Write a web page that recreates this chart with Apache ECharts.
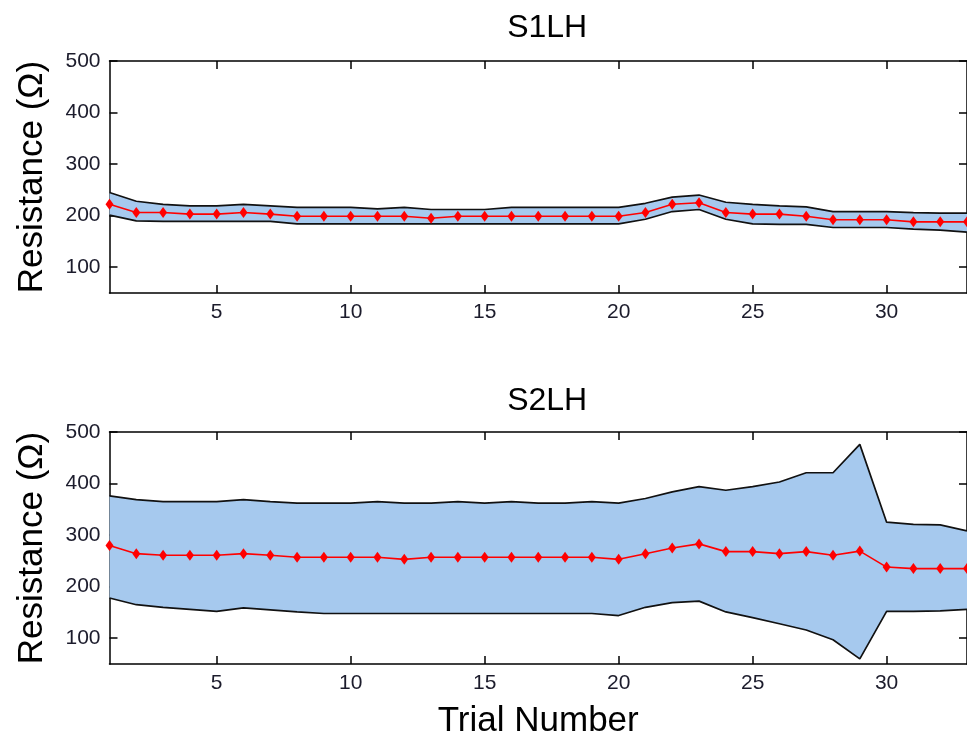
<!DOCTYPE html>
<html>
<head>
<meta charset="utf-8">
<script src="https://cdn.jsdelivr.net/npm/echarts@6/dist/echarts.min.js"></script>
<style>
html,body{margin:0;padding:0;background:#fff;}
#chart{width:967px;height:740px;}
</style>
</head>
<body>
<div id="chart"></div>
<script>
// ---- data ----
var trials = [1,2,3,4,5,6,7,8,9,10,11,12,13,14,15,16,17,18,19,20,21,22,23,24,25,26,27,28,29,30,31,32,33];
var xTicks = [5,10,15,20,25,30];
var yTicks = [100,200,300,400,500];
var titles = ['S1LH','S2LH'];

var s1Mean  = [222,206,206,203,203,206,203,199,199,199,199,199,195,199,199,199,199,199,199,199,206,222,225,206,203,203,199,192,192,192,188,188,188];
var s1Upper = [245,228,222,219,219,222,219,216,216,216,213,216,212,212,212,216,216,216,216,216,224,236,240,226,222,219,217,208,208,208,206,205,205];
var s1Lower = [201,190,189,189,189,189,189,184,184,184,184,184,184,184,184,184,184,184,184,184,193,208,212,193,184,183,183,177,177,177,174,172,168];

var s2Mean  = [280,264,261,261,261,264,261,257,257,257,257,253,257,257,257,257,257,257,257,253,264,275,283,268,268,264,268,261,269,238,235,235,235];
var s2Upper = [376,369,365,365,365,369,365,362,362,362,365,362,362,365,362,365,362,362,365,362,371,384,394,387,394,403,421,421,476,325,321,320,308];
var s2Lower = [178,165,160,156,152,159,155,151,148,148,148,148,148,148,148,148,148,148,148,144,160,169,172,151,140,128,116,97,60,152,152,153,156];

// ---- build ----
function pairs(xs, ys){ return xs.map(function(x,i){ return [x, ys[i]]; }); }

var FONT = 'Liberation Sans, Arial, sans-serif';
var gridLeft = 109.5, gridWidth = 865.3, gridH = 232;
var gridTops = [61, 432];

var grids = [], xAxes = [], yAxes = [], series = [], titleArr = [];
var panels = [
  {mean:s1Mean, upper:s1Upper, lower:s1Lower},
  {mean:s2Mean, upper:s2Upper, lower:s2Lower}
];

function bandRenderer(upper, lower){
  return function(params, api){
    var pts = [];
    var i;
    for(i=0;i<trials.length;i++){ pts.push(api.coord([trials[i], upper[i]])); }
    for(i=trials.length-1;i>=0;i--){ pts.push(api.coord([trials[i], lower[i]])); }
    return {
      type:'polygon',
      shape:{points:pts},
      style:{fill:'#a6c9ee', stroke:null}
    };
  };
}

panels.forEach(function(p, k){
  grids.push({left:gridLeft, top:gridTops[k], width:gridWidth, height:gridH, containLabel:false});
  titleArr.push({
    text:titles[k], left:gridLeft+gridWidth/2, top:(k===0?7:380), textAlign:'center',
    textStyle:{fontFamily:FONT, fontSize:32, fontWeight:'normal', color:'#000'}
  });
  xAxes.push({
    type:'value', gridIndex:k, position:'bottom', min:1, max:33,
    axisLine:{show:true, onZero:false, lineStyle:{color:'#000', width:1.5}},
    axisTick:{show:true, inside:true, length:8, customValues:xTicks, lineStyle:{color:'#000', width:1.5}},
    axisLabel:{show:true, customValues:xTicks, margin:9, fontFamily:FONT, fontSize:21, color:'#1c1c2c'},
    splitLine:{show:false},
    name:(k===1?'Trial Number':''), nameLocation:'middle', nameGap:40,
    nameTextStyle:{fontFamily:FONT, fontSize:35, color:'#000'}
  });
  xAxes.push({
    type:'value', gridIndex:k, position:'top', min:1, max:33,
    axisLine:{show:true, onZero:false, lineStyle:{color:'#000', width:1.5}},
    axisTick:{show:true, inside:true, length:8, customValues:xTicks, lineStyle:{color:'#000', width:1.5}},
    axisLabel:{show:false}, splitLine:{show:false}
  });
  yAxes.push({
    type:'value', gridIndex:k, position:'left', min:50, max:500,
    axisLine:{show:true, onZero:false, lineStyle:{color:'#000', width:1.5}},
    axisTick:{show:true, inside:true, length:8, customValues:yTicks, lineStyle:{color:'#000', width:1.5}},
    axisLabel:{show:true, customValues:yTicks, margin:9, fontFamily:FONT, fontSize:21, color:'#1c1c2c'},
    splitLine:{show:false},
    name:'Resistance (Ω)', nameLocation:'middle', nameGap:60, nameRotate:90,
    nameTextStyle:{fontFamily:FONT, fontSize:35, color:'#000'}
  });
  yAxes.push({
    type:'value', gridIndex:k, position:'right', min:50, max:500,
    axisLine:{show:true, onZero:false, lineStyle:{color:'#000', width:1.5}},
    axisTick:{show:true, inside:true, length:8, customValues:yTicks, lineStyle:{color:'#000', width:1.5}},
    axisLabel:{show:false}, splitLine:{show:false}
  });
  var xi = k*2, yi = k*2;
  series.push({
    type:'custom', xAxisIndex:xi, yAxisIndex:yi, data:[[trials[0], p.upper[0]]],
    renderItem:bandRenderer(p.upper, p.lower), clip:true, z:1, animation:false, silent:true
  });
  series.push({
    type:'line', xAxisIndex:xi, yAxisIndex:yi, data:pairs(trials, p.lower),
    symbol:'none', lineStyle:{color:'#111', width:1.7}, z:3, animation:false, silent:true
  });
  series.push({
    type:'line', xAxisIndex:xi, yAxisIndex:yi, data:pairs(trials, p.upper),
    symbol:'none', lineStyle:{color:'#111', width:1.7}, z:3, animation:false, silent:true
  });
  series.push({
    type:'line', xAxisIndex:xi, yAxisIndex:yi, data:pairs(trials, p.mean),
    symbol:'diamond', symbolSize:[8,11], showSymbol:true,
    itemStyle:{color:'#ff0000'}, lineStyle:{color:'#ff0000', width:1.6}, z:4, animation:false, silent:true
  });
});

var chart = echarts.init(document.getElementById('chart'), null, {renderer:'canvas'});
chart.setOption({
  animation:false,
  backgroundColor:'#fff',
  title:titleArr,
  grid:grids,
  xAxis:xAxes,
  yAxis:yAxes,
  series:series
});
</script>
</body>
</html>
